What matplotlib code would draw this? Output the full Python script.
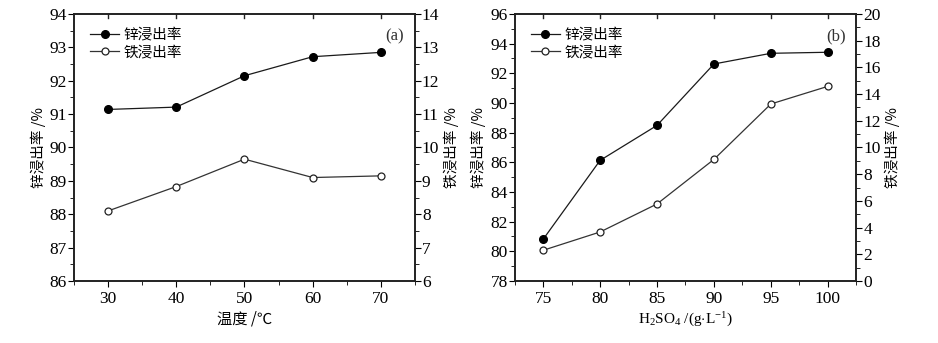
import matplotlib
matplotlib.use("Agg")
import matplotlib.pyplot as plt
from matplotlib.ticker import MultipleLocator

# Panel (a): temperature
temp = [30, 40, 50, 60, 70]
zn_a = [91.14, 91.21, 92.15, 92.72, 92.85]
fe_a = [8.10, 8.83, 9.65, 9.10, 9.15]

# Panel (b): H2SO4 concentration
acid = [75, 80, 85, 90, 95, 100]
zn_b = [80.81, 86.13, 88.49, 92.63, 93.35, 93.42]
fe_b = [2.30, 3.67, 5.77, 9.11, 13.26, 14.58]

label_zn = "锌浸出率"
label_fe = "铁浸出率"

serif = ["Liberation Serif", "DejaVu Serif"]
cjk = ["Noto Sans CJK SC", "DejaVu Sans"]
plt.rcParams['font.family'] = serif
plt.rcParams['mathtext.fontset'] = 'custom'
plt.rcParams['mathtext.rm'] = 'Liberation Serif'
plt.rcParams['mathtext.it'] = 'Liberation Serif:italic'

fig = plt.figure(figsize=(9.38, 3.43), dpi=100)

TICK_FS = 12.5

def style_axes(ax, ax2):
    for a in (ax, ax2):
        for s in a.spines.values():
            s.set_linewidth(1.2)
            s.set_color("#222222")
    ax.tick_params(axis='x', which='both', direction='out', top=False, labelsize=TICK_FS, pad=3)
    ax.tick_params(axis='x', which='major', length=4)
    ax.tick_params(axis='x', which='minor', length=3)
    ax.tick_params(axis='y', which='major', direction='out', length=4, labelsize=TICK_FS, pad=1)
    ax.tick_params(axis='y', which='minor', direction='out', length=3)
    ax2.tick_params(axis='y', which='major', direction='out', length=4, labelsize=TICK_FS, pad=1)
    ax2.tick_params(axis='y', which='minor', direction='out', length=3)
    lo, hi = ax.get_xlim()
    for t in ax.get_xticks():
        if lo <= t <= hi:
            ax.plot([t, t], [1, 0.985], transform=ax.get_xaxis_transform(),
                    color="#222222", lw=1.0, clip_on=False)

def draw(rect, x, zn, fe, xlim, xmaj, xmin, ylim, ymaj, ymin, y2lim, y2maj, y2min, tag, xlabel, xlabel_family):
    ax = fig.add_axes(rect)
    ax2 = ax.twinx()
    l1, = ax.plot(x, zn, '-o', color='#1a1a1a', lw=0.9, ms=5.5, mfc='black', mec='black', label=label_zn)
    l2, = ax2.plot(x, fe, '-o', color='#333333', lw=0.9, ms=5, mfc='white', mec='#222222', mew=0.9, label=label_fe)
    ax.set_xlim(*xlim)
    ax.set_ylim(*ylim)
    ax2.set_ylim(*y2lim)
    ax.xaxis.set_major_locator(MultipleLocator(xmaj))
    ax.xaxis.set_minor_locator(MultipleLocator(xmin))
    ax.yaxis.set_major_locator(MultipleLocator(ymaj))
    ax.yaxis.set_minor_locator(MultipleLocator(ymin))
    ax2.yaxis.set_major_locator(MultipleLocator(y2maj))
    ax2.yaxis.set_minor_locator(MultipleLocator(y2min))
    ax.set_ylabel(label_zn + " /%", family=cjk, fontsize=10.5, labelpad=3)
    ax2.set_ylabel(label_fe + " /%", family=cjk, fontsize=10.5, labelpad=3)
    ax.set_xlabel(xlabel, family=xlabel_family, fontsize=11, labelpad=3)
    style_axes(ax, ax2)
    ax.legend([l1, l2], [label_zn, label_fe], loc='upper left', frameon=False,
              prop={'family': cjk, 'size': 10.5}, handlelength=2.0, handletextpad=0.3,
              labelspacing=0.25, borderaxespad=0.0, bbox_to_anchor=(0.03, 0.97))
    ax.text(0.94, 0.915, tag, transform=ax.transAxes, ha='center', va='center',
            fontsize=12, family=serif, color='#333333')
    return ax, ax2

draw([0.0789, 0.1808, 0.3635, 0.7784], temp, zn_a, fe_a,
     (25, 75), 10, 5, (86, 94), 1, 0.5, (6, 14), 1, 0.5, "(a)", "温度 /℃", cjk)
draw([0.5487, 0.1808, 0.3642, 0.7784], acid, zn_b, fe_b,
     (72.5, 102.5), 5, 2.5, (78, 96), 2, 1, (0, 20), 2, 1, "(b)",
     r"H$_2$SO$_4$ /(g$\cdot$L$^{-1}$)", serif)

fig.savefig("out.png", dpi=100)
